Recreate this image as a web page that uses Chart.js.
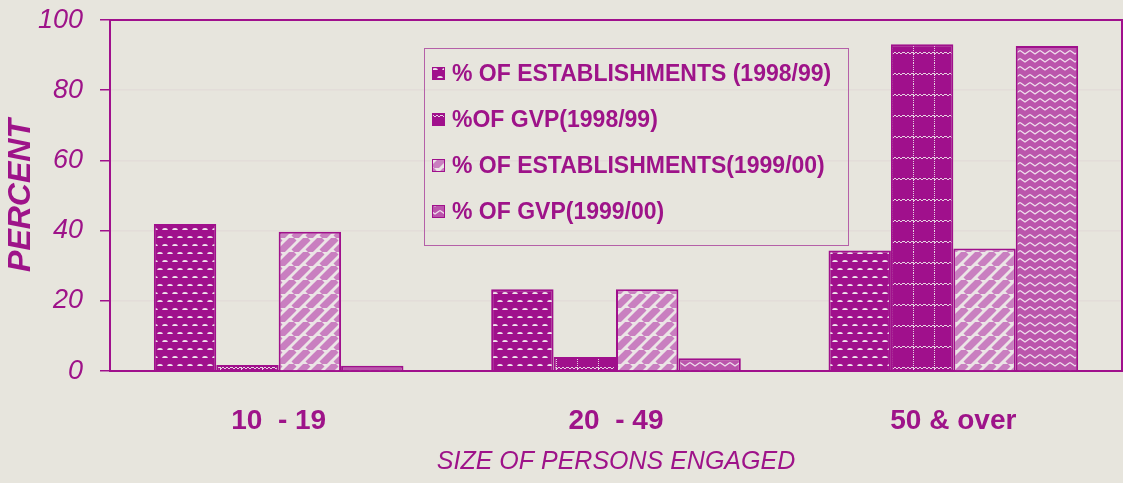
<!DOCTYPE html>
<html>
<head>
<meta charset="utf-8">
<script src="https://cdn.jsdelivr.net/npm/chart.js@4.4.0/dist/chart.umd.min.js"></script>
<style>
  html, body { margin: 0; padding: 0; background: #e7e5dd; }
  #wrap { width: 1123px; height: 483px; }
</style>
</head>
<body>
<div id="wrap"><canvas id="sizeChart" width="1123" height="483"></canvas></div>
<script>
// Data
const categories = ['10  - 19', '20  - 49', '50 & over'];
const seriesNames = [
    '% OF ESTABLISHMENTS (1998/99)',
    '%OF GVP(1998/99)',
    '% OF ESTABLISHMENTS(1999/00)',
    '% OF GVP(1999/00)'
];
const estab9899 = [41.9, 23.3, 34.3];
const gvp9899 = [1.7, 4.0, 93.1];
const estab9900 = [39.7, 23.3, 34.9];
const gvp9900 = [1.5, 3.6, 92.6];
const yTicks = [0, 20, 40, 60, 80, 100];

const MAG = '#a0108c';
const TEXT = '#9e1389';
const BG = '#e7e5dd';

const canvas = document.getElementById('sizeChart');
const ctx = canvas.getContext('2d');

// Build a repeating fill from a small tile
function makePattern(w, h, draw) {
    const c = document.createElement('canvas');
    c.width = w;
    c.height = h;
    draw(c.getContext('2d'), w, h);
    return ctx.createPattern(c, 'repeat');
}

// dark fill with small white "scales"
const scalesFill = makePattern(10, 16, function (g, w, h) {
    g.fillStyle = MAG;
    g.fillRect(0, 0, w, h);
    g.fillStyle = '#efe3ec';
    [[5, 6], [0, 14], [10, 14]].forEach(function (p) {
        g.beginPath();
        g.ellipse(p[0], p[1], 2.8, 2, 0, Math.PI, 0);
        g.fill();
    });
});

// dark fill with thin white grid lines
const gridFill = makePattern(21, 21, function (g, w, h) {
    g.fillStyle = MAG;
    g.fillRect(0, 0, w, h);
    g.fillStyle = '#e6d2e2';
    for (let y = 0; y < h; y += 2) g.fillRect(10, y, 1, 1);
    for (let x = 0; x < w; x++) g.fillRect(x, 10 + (x % 4 < 2 ? 0 : 1), 1, 1);
});

// light diagonal stripes
const stripeFill = makePattern(14, 14, function (g, w, h) {
    g.fillStyle = '#ebe4e6';
    g.fillRect(0, 0, w, h);
    g.strokeStyle = '#c97fc0';
    g.lineWidth = 7;
    [-14, 0, 14].forEach(function (o) {
        g.beginPath();
        g.moveTo(o, h);
        g.lineTo(o + w, 0);
        g.stroke();
    });
});

// medium fill with white zigzags
const zigzagFill = makePattern(10, 8, function (g, w, h) {
    g.fillStyle = '#bb55ac';
    g.fillRect(0, 0, w, h);
    g.strokeStyle = '#efdeec';
    g.lineWidth = 1.4;
    g.beginPath();
    g.moveTo(0, 2.5);
    g.lineTo(5, 6);
    g.lineTo(10, 2.5);
    g.stroke();
});

const fills = [scalesFill, gridFill, stripeFill, zigzagFill];

// page background
const bgPlugin = {
    id: 'bgPlugin',
    beforeDraw(chart) {
        const c = chart.ctx;
        c.save();
        c.fillStyle = BG;
        c.fillRect(0, 0, chart.width, chart.height);
        c.restore();
    }
};

// top and right frame lines of the plot area
const framePlugin = {
    id: 'framePlugin',
    afterDraw(chart) {
        const a = chart.chartArea;
        const c = chart.ctx;
        c.save();
        c.strokeStyle = MAG;
        c.lineWidth = 2;
        c.beginPath();
        c.moveTo(a.left, a.top);
        c.lineTo(a.right, a.top);
        c.lineTo(a.right, a.bottom);
        c.stroke();
        c.restore();
    }
};

// boxed legend inside the plot
const boxLegend = {
    id: 'boxLegend',
    afterDatasetsDraw(chart) {
        const c = chart.ctx;
        const left = 424, top = 48, width = 424, height = 197;
        c.save();
        c.strokeStyle = '#b560a8';
        c.lineWidth = 1;
        c.strokeRect(left + 0.5, top + 0.5, width, height);
        c.font = 'bold 23px "Liberation Sans", Arial, sans-serif';
        c.textBaseline = 'middle';
        chart.data.datasets.forEach(function (ds, i) {
            const y = 74 + i * 46;
            c.fillStyle = ds.backgroundColor;
            c.fillRect(432, y - 7, 13, 13);
            c.strokeStyle = MAG;
            c.lineWidth = 1;
            c.strokeRect(432.5, y - 6.5, 12, 12);
            c.fillStyle = TEXT;
            c.fillText(ds.label, 452, y + 1);
        });
        c.restore();
    }
};

const seriesData = [estab9899, gvp9899, estab9900, gvp9900];

new Chart(ctx, {
    type: 'bar',
    data: {
        labels: categories,
        datasets: seriesData.map(function (vals, i) {
            return {
                label: seriesNames[i],
                data: vals,
                backgroundColor: fills[i],
                borderColor: MAG,
                borderWidth: 2,
                barPercentage: 1.0,
                categoryPercentage: 0.74
            };
        })
    },
    options: {
        responsive: false,
        animation: false,
        layout: { padding: { top: 20, right: 1, left: 0, bottom: 0 } },
        plugins: {
            legend: { display: false },
            tooltip: { enabled: false }
        },
        scales: {
            x: {
                afterFit(scale) { scale.height = 112; },
                grid: { display: true, drawOnChartArea: false, drawTicks: false },
                border: { color: MAG, width: 2 },
                ticks: {
                    color: TEXT,
                    padding: 33,
                    font: { family: '"Liberation Sans", Arial, sans-serif', size: 28, weight: 'bold' }
                },
                title: {
                    display: true,
                    text: 'SIZE OF PERSONS ENGAGED',
                    color: TEXT,
                    padding: { top: 0, bottom: 6 },
                    font: { family: '"Liberation Sans", Arial, sans-serif', size: 25, style: 'italic' }
                }
            },
            y: {
                min: 0,
                max: 100,
                afterFit(scale) {
                    scale.width = 110;
                    scale.paddingTop = 0;
                    scale.paddingBottom = 0;
                },
                afterBuildTicks(scale) {
                    scale.ticks = yTicks.map(function (v) { return { value: v }; });
                },
                grid: {
                    color: 'rgba(160, 16, 140, 0.04)',
                    tickColor: MAG,
                    tickLength: 10,
                    lineWidth: 1.5
                },
                border: { color: MAG, width: 2 },
                ticks: {
                    color: TEXT,
                    padding: 17,
                    font: { family: '"Liberation Sans", Arial, sans-serif', size: 27, style: 'italic' }
                },
                title: {
                    display: true,
                    text: 'PERCENT',
                    color: TEXT,
                    padding: { top: 2, bottom: 0 },
                    font: { family: '"Liberation Sans", Arial, sans-serif', size: 32, style: 'italic', weight: 'bold' }
                }
            }
        }
    },
    plugins: [bgPlugin, boxLegend, framePlugin]
});
</script>
</body>
</html>
